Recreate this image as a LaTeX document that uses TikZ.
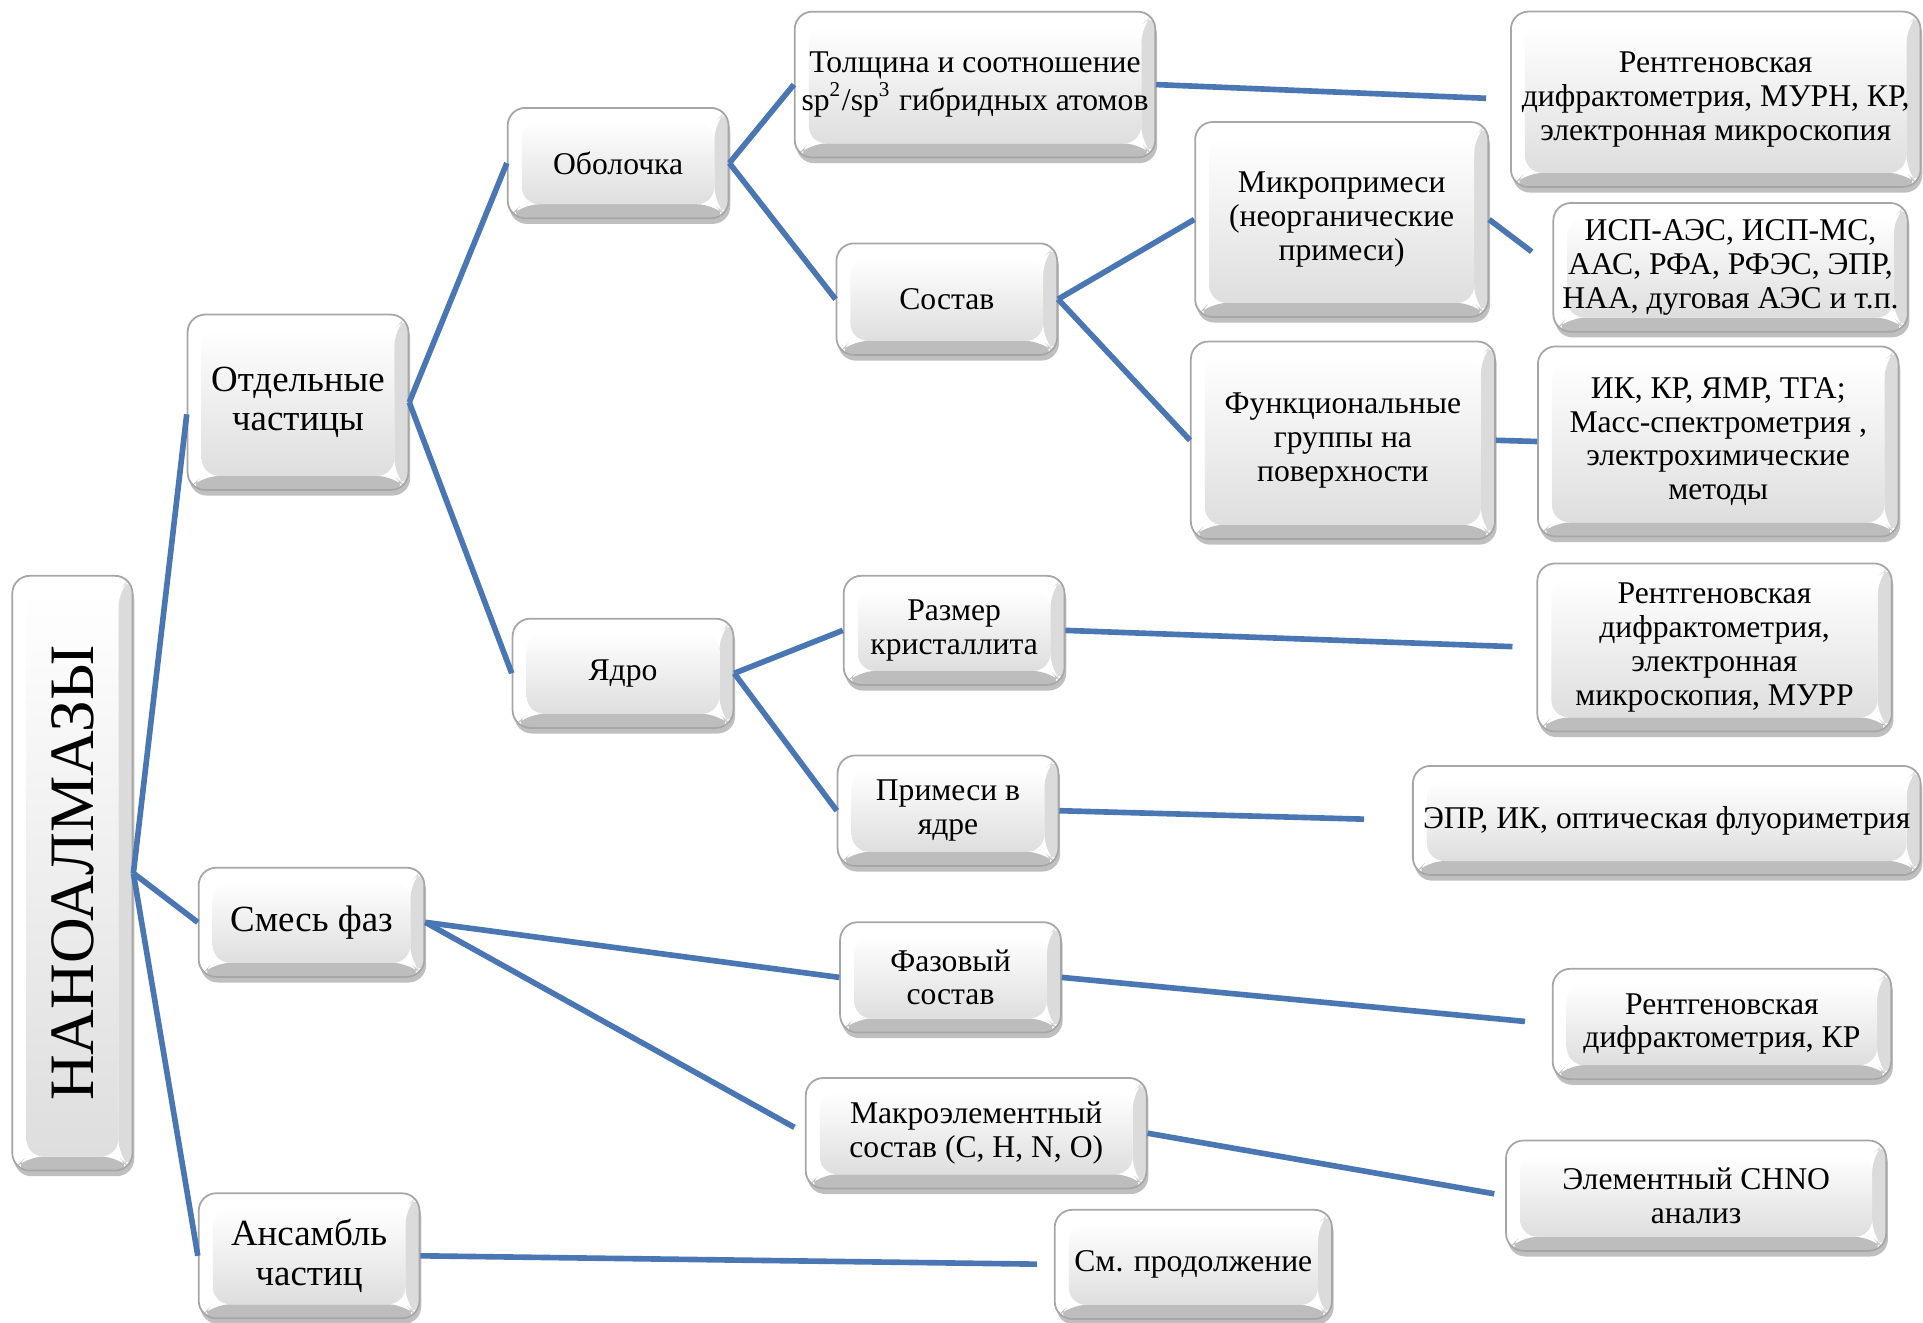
\documentclass[tikz,border=0pt]{standalone}
\usepackage{fontspec}
\setmainfont{Liberation Serif}
\usepackage{tikz}
\usetikzlibrary{shadows,calc}
\definecolor{linkblue}{HTML}{4A76B4}

\begin{document}
\begin{tikzpicture}[
  box/.style={draw=black!35, line width=0.5pt, rounded corners=5pt, fill=white,
    drop shadow={shadow xshift=0.5pt, shadow yshift=-1.6pt, opacity=0.5},
    path picture={
      \path (path picture bounding box.south west) coordinate (bsw)
            (path picture bounding box.south east) coordinate (bse)
            (path picture bounding box.north east) coordinate (bne);
      \fill[black!26] (bsw) -- (bse) -- ([shift={(-4pt,4pt)}]bse) -- ([shift={(4pt,4pt)}]bsw) -- cycle;
      \fill[black!14] (bse) -- (bne) -- ([shift={(-4pt,-4pt)}]bne) -- ([shift={(-4pt,4pt)}]bse) -- cycle;
      \shade[top color=white, bottom color=black!13] ([shift={(4pt,4pt)}]bsw) rectangle ([shift={(-4pt,-4pt)}]bne);
    },
    align=center, inner sep=1pt, font=\fontsize{9}{9.6}\selectfont},
  big/.style={font=\fontsize{10.5}{11.2}\selectfont},
  link/.style={draw=linkblue, line width=1.6pt},
]
\useasboundingbox (0,0) rectangle (19.23,13.22);

\node[box, minimum width=1.202cm, minimum height=5.948cm, font=\fontsize{18}{20}\selectfont] (root) at (0.724,4.488) {\rotatebox{90}{НАНОАЛМАЗЫ}};

\node[box, big, minimum width=2.208cm, minimum height=1.754cm] (indiv) at (2.980,9.197) {Отдельные\\частицы};
\node[box, big, minimum width=2.257cm, minimum height=1.092cm] (mix) at (3.115,3.997) {Смесь фаз};
\node[box, big, minimum width=2.208cm, minimum height=1.251cm] (ens) at (3.091,0.662) {Ансамбль\\частиц};

\node[box, minimum width=2.208cm, minimum height=1.104cm] (shell) at (6.181,11.589) {Оболочка};
\node[box, minimum width=2.208cm, minimum height=1.092cm] (core) at (6.230,6.487) {Ядро};

\node[box, minimum width=3.606cm, minimum height=1.459cm] (thick) at (9.750,12.374) {Толщина и соотношение\\sp\textsuperscript{2}/sp\textsuperscript{3} гибридных атомов};
\node[box, minimum width=2.208cm, minimum height=1.116cm] (comp) at (9.468,10.228) {Состав};
\node[box, minimum width=2.931cm, minimum height=1.950cm] (micro) at (13.417,11.025) {Микропримеси\\(неорганические\\примеси)};
\node[box, minimum width=3.041cm, minimum height=1.975cm] (func) at (13.429,8.817) {Функциональные\\группы на\\поверхности};
\node[box, minimum width=2.208cm, minimum height=1.092cm] (size) at (9.541,6.916) {Размер\\кристаллита};
\node[box, minimum width=2.208cm, minimum height=1.104cm] (impur) at (9.480,5.113) {Примеси в\\ядре};
\node[box, minimum width=2.208cm, minimum height=1.104cm] (phase) at (9.505,3.446) {Фазовый\\состав};
\node[box, minimum width=3.409cm, minimum height=1.104cm] (macro) at (9.762,1.888) {Макроэлементный\\состав (C, H, N, O)};
\node[box, minimum width=2.772cm, minimum height=1.092cm] (cont) at (11.933,0.576) {См. продолжение};

\node[box, minimum width=4.096cm, minimum height=1.754cm] (xrdA) at (17.157,12.227) {Рентгеновская\\дифрактометрия, МУРН, КР,\\электронная микроскопия};
\node[box, minimum width=3.544cm, minimum height=1.288cm] (icp) at (17.305,10.546) {ИСП-АЭС, ИСП-МС,\\ААС, РФА, РФЭС, ЭПР,\\НАА, дуговая АЭС и т.п.};
\node[box, minimum width=3.606cm, minimum height=1.901cm] (ir) at (17.182,8.805) {ИК, КР, ЯМР, ТГА;\\Масс-спектрометрия ,\\электрохимические\\методы};
\node[box, minimum width=3.544cm, minimum height=1.680cm] (xrdB) at (17.145,6.745) {Рентгеновская\\дифрактометрия,\\электронная\\микроскопия, МУРР};
\node[box, minimum width=5.077cm, minimum height=1.092cm] (epr) at (16.667,5.015) {ЭПР, ИК, оптическая флуориметрия};
\node[box, minimum width=3.385cm, minimum height=1.104cm] (xrdC) at (17.219,2.980) {Рентгеновская\\дифрактометрия, КР};
\node[box, minimum width=3.802cm, minimum height=1.104cm] (chno) at (16.961,1.263) {Элементный CHNO\\анализ};

\draw[link] (root.east) -- ($(indiv.west)+(0,-0.12)$);
\draw[link] (root.east) -- (mix.west);
\draw[link] (root.east) -- (ens.west);
\draw[link] (indiv.east) -- (shell.west);
\draw[link] (indiv.east) -- (core.west);
\draw[link] (shell.east) -- (thick.west);
\draw[link] (shell.east) -- (comp.west);
\draw[link] (comp.east) -- (micro.west);
\draw[link] (comp.east) -- (func.west);
\draw[link] (core.east) -- (size.west);
\draw[link] (core.east) -- (impur.west);
\draw[link] (mix.east) -- (phase.west);
\draw[link, shorten >=0.12cm] (mix.east) -- (macro.west);
\draw[link, shorten >=0.24cm] (thick.east) -- (xrdA.west);
\draw[link, shorten >=0.26cm] (micro.east) -- (icp.west);
\draw[link] (func.east) -- (ir.west);
\draw[link, shorten >=0.24cm] (size.east) -- (xrdB.west);
\draw[link, shorten >=0.48cm] (impur.east) -- (epr.west);
\draw[link, shorten >=0.27cm] (phase.east) -- (xrdC.west);
\draw[link, shorten >=0.11cm] (macro.east) -- (chno.west);
\draw[link, shorten >=0.17cm] (ens.east) -- (cont.west);
\end{tikzpicture}
\end{document}
